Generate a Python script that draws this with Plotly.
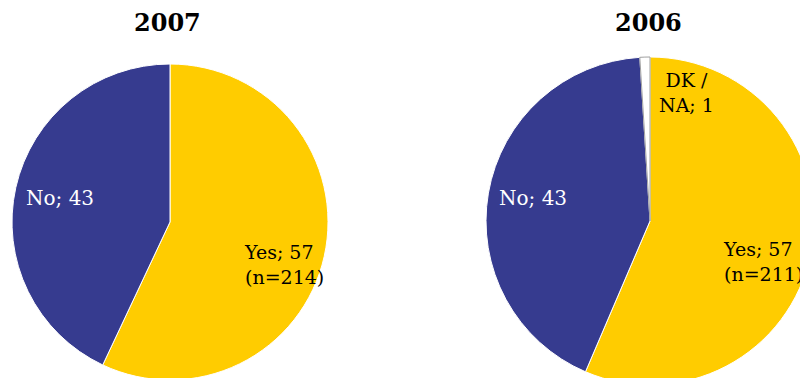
import plotly.graph_objects as go

# ---- data ----
years = ["2007", "2006"]
labels_2007 = ["Yes", "No"]
values_2007 = [57, 43]
n_2007 = 214
labels_2006 = ["Yes", "No", "DK / NA"]
values_2006 = [57, 43, 1]
n_2006 = 211

color_map = {"Yes": "#FFCC00", "No": "#363B8F", "DK / NA": "#FFFFFF"}
edge_map = {"Yes": "#FFFFFF", "No": "#FFFFFF", "DK / NA": "#A0A0A0"}

W, H = 830, 395
OFF = 8  # page body offset
FONT = "Georgia, 'DejaVu Serif', serif"


def fx(px):
    return (px - OFF) / W


def fy(py):
    return 1 - (py - OFF) / H


fig = go.Figure()

pies = [
    (labels_2007, values_2007, (12, 328), (64, 380)),
    (labels_2006, values_2006, (486, 814), (57, 385)),
]
for labels, values, (x0, x1), (y0, y1) in pies:
    fig.add_trace(go.Pie(
        labels=labels,
        values=values,
        sort=False,
        direction="clockwise",
        rotation=0,
        textinfo="none",
        hoverinfo="label+value",
        marker=dict(colors=[color_map[l] for l in labels],
                    line=dict(color=[edge_map[l] for l in labels], width=1)),
        domain=dict(x=[fx(x0), fx(x1)], y=[fy(y1), fy(y0)]),
        showlegend=False,
    ))

ann = []
# titles
for yr, cx in zip(years, [167, 648]):
    ann.append(dict(text=f"<b>{yr}</b>", x=fx(cx), y=fy(23), xref="paper", yref="paper",
                    xanchor="center", yanchor="middle", showarrow=False,
                    font=dict(family=FONT, size=24, color="#000000")))


def lab(text, x, y, color, anchor="left", align="left", size=19):
    ann.append(dict(text=text, x=fx(x), y=fy(y), xref="paper", yref="paper",
                    xanchor=anchor, yanchor="middle", showarrow=False, align=align,
                    font=dict(family=FONT, size=size, color=color)))


# 2007 labels
lab(f"{labels_2007[1]}; {values_2007[1]}", 24, 198, "#FFFFFF", size=20)
lab(f"{labels_2007[0]}; {values_2007[0]}<br>(n={n_2007})", 242, 264, "#000000")
# 2006 labels
lab(f"{labels_2006[1]}; {values_2006[1]}", 497, 198, "#FFFFFF", size=20)
lab(f"{labels_2006[0]}; {values_2006[0]}<br>(n={n_2006})", 721, 261, "#000000")
lab(labels_2006[2].replace(" / ", " /<br>") + f"; {values_2006[2]}", 686, 92, "#000000",
    anchor="center", align="center")

fig.update_layout(
    width=W, height=H,
    margin=dict(l=0, r=0, t=0, b=0),
    paper_bgcolor="#FFFFFF",
    plot_bgcolor="#FFFFFF",
    annotations=ann,
)

fig.write_html("out.html")
